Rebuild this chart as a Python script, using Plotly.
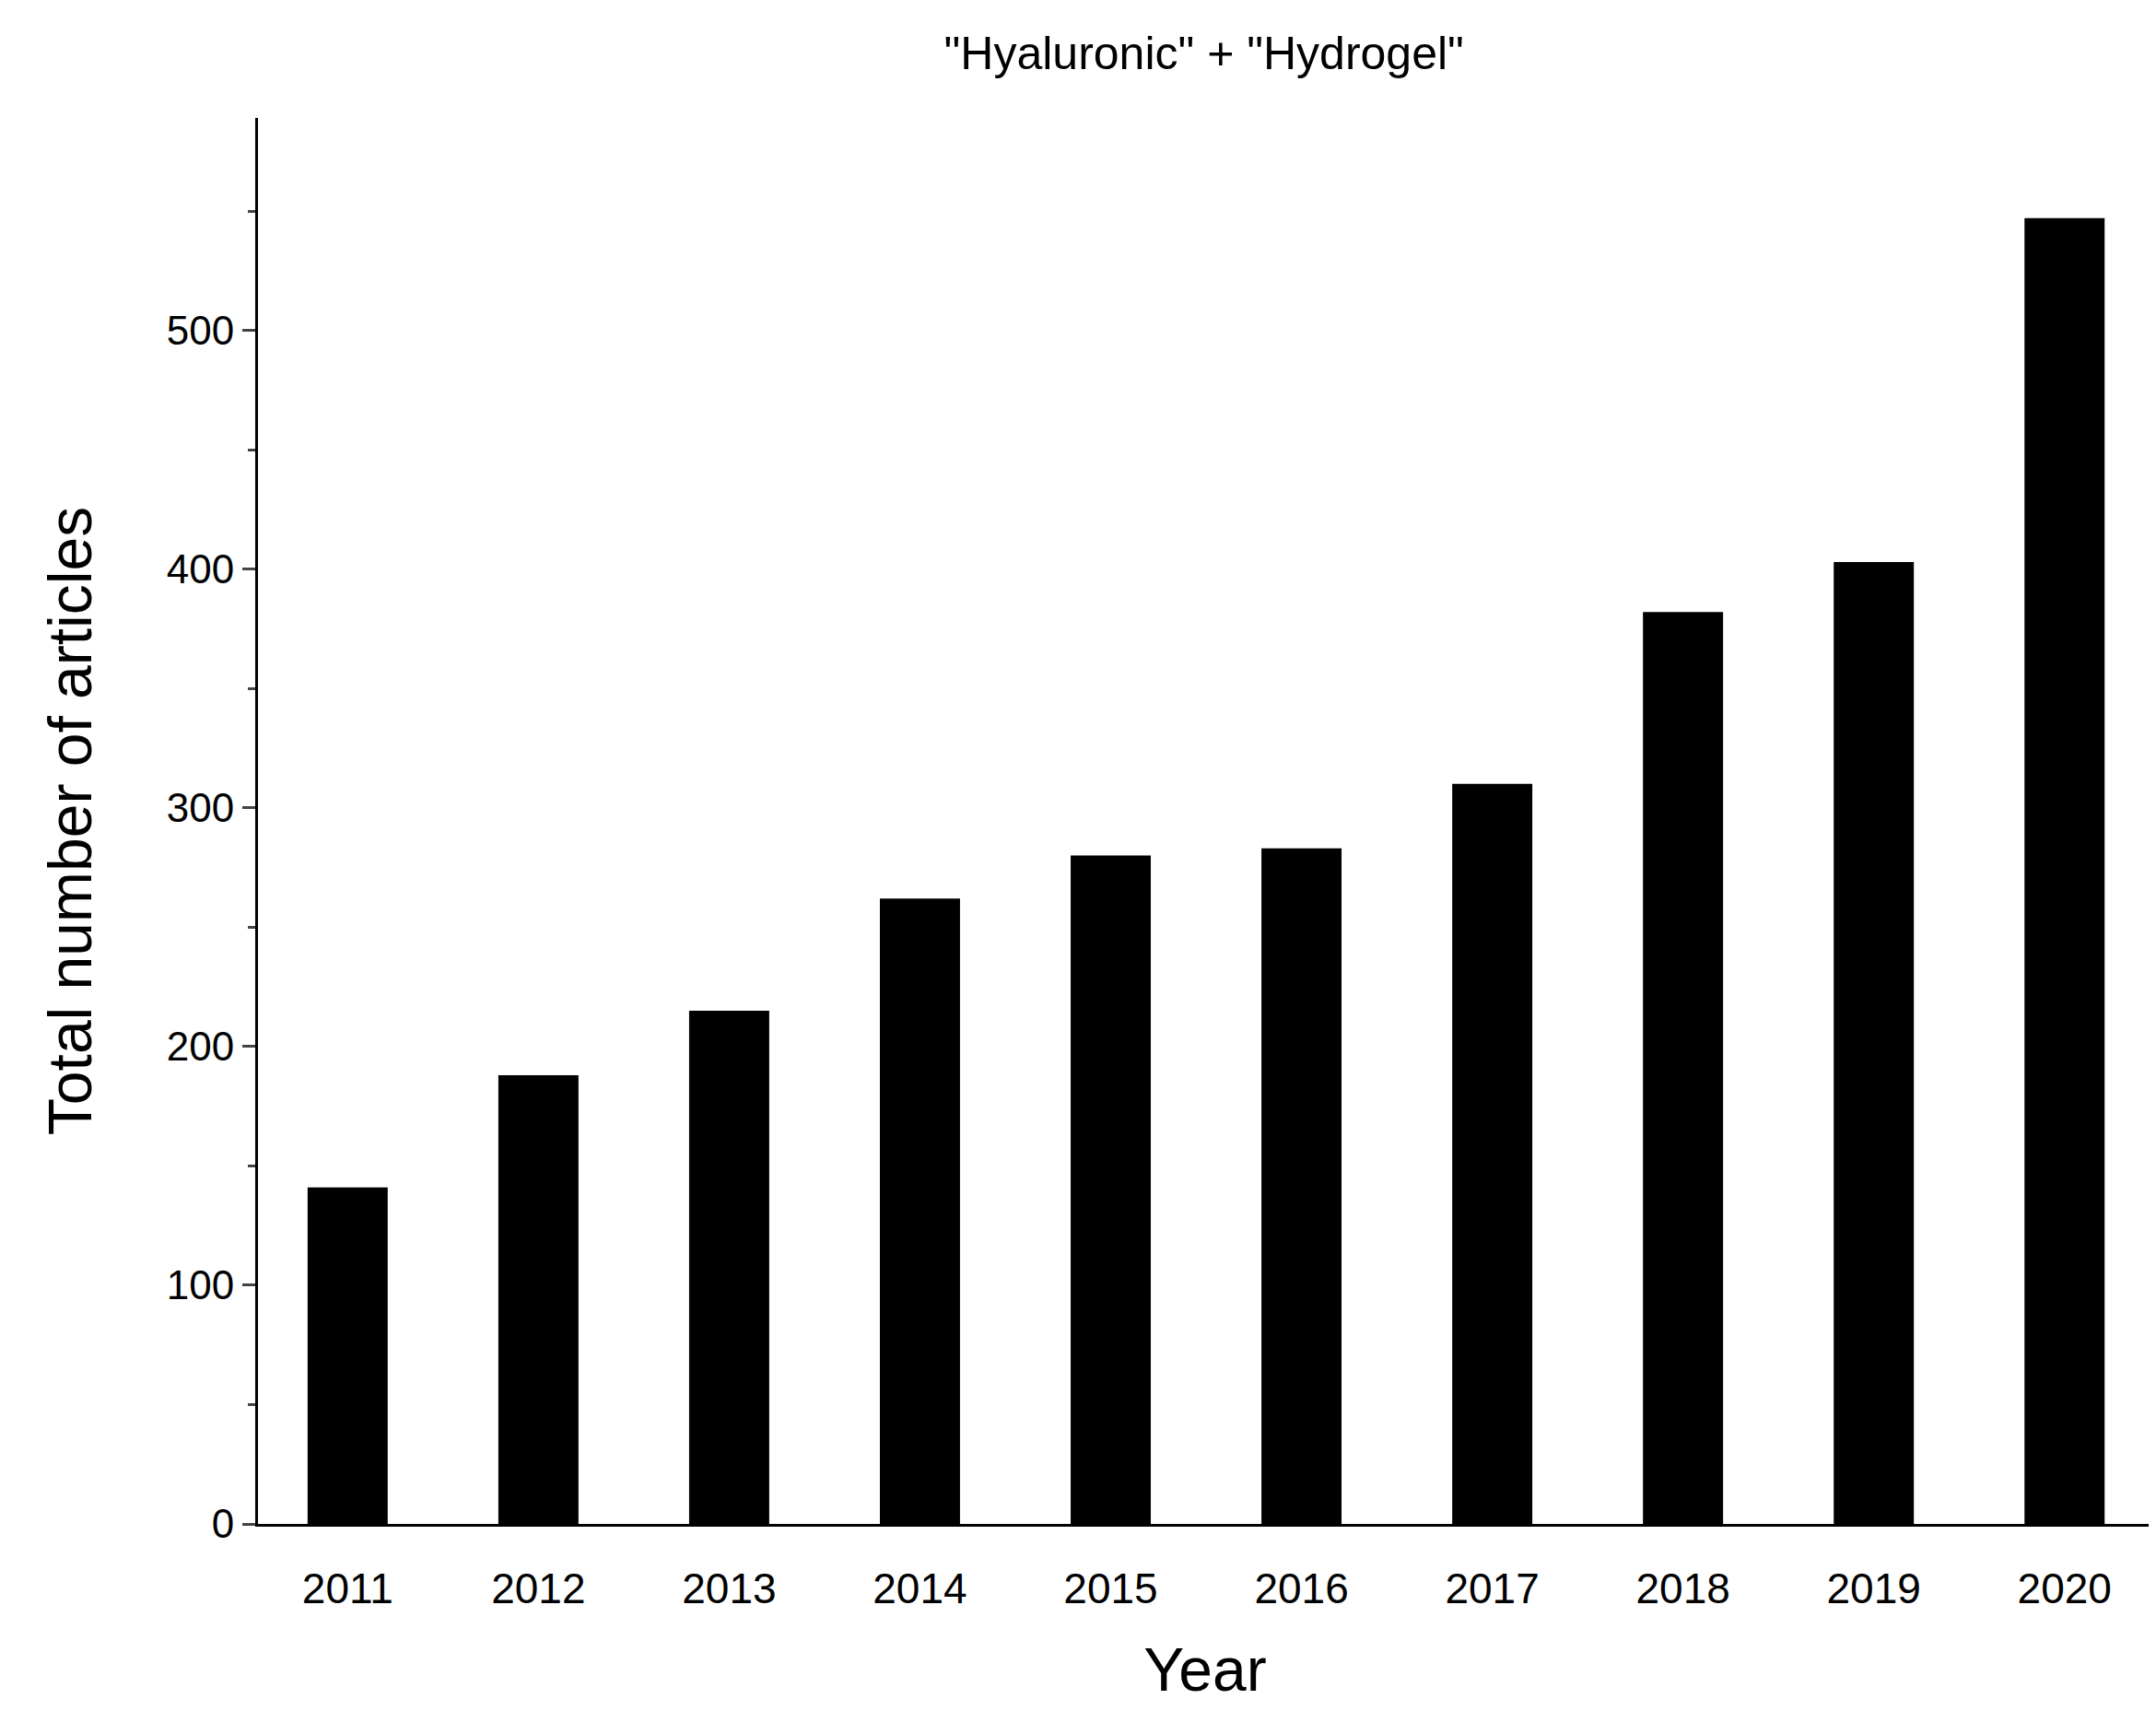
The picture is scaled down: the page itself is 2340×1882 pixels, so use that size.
import plotly.graph_objects as go

# Data
years = ["2011", "2012", "2013", "2014", "2015", "2016", "2017", "2018", "2019", "2020"]
articles = [141, 188, 215, 262, 280, 283, 310, 382, 403, 547]

fig = go.Figure(
    go.Bar(
        x=list(range(len(years))),
        y=articles,
        width=0.42,
        marker=dict(color="black", line=dict(width=0)),
    )
)

fig.update_layout(
    width=2340,
    height=1882,
    paper_bgcolor="white",
    plot_bgcolor="white",
    showlegend=False,
    font=dict(family="Liberation Sans, Arial", color="black"),
    margin=dict(l=272, r=12, t=120, b=236),
    title=dict(
        text='"Hyaluronic" + "Hydrogel"',
        x=0.555,
        xanchor="center",
        y=0.983,
        font=dict(size=50),
    ),
    xaxis=dict(
        range=[-0.47, 9.46],
        tickmode="array",
        tickvals=list(range(len(years))),
        ticktext=years,
        showline=True,
        linecolor="black",
        linewidth=3,
        ticks="outside",
        ticklen=28,
        tickcolor="rgba(0,0,0,0)",
        showgrid=False,
        zeroline=False,
        tickfont=dict(size=46),
        title=dict(text="Year", font=dict(size=66), standoff=40),
    ),
    yaxis=dict(
        range=[0, 589],
        tickvals=[0, 100, 200, 300, 400, 500],
        showline=True,
        linecolor="black",
        linewidth=3,
        ticks="outside",
        ticklen=14,
        tickwidth=3,
        minor=dict(ticks="outside", ticklen=8, tickwidth=3, dtick=50, tick0=0),
        showgrid=False,
        zeroline=False,
        tickfont=dict(size=44),
        title=dict(text="Total number of articles", font=dict(size=66), standoff=60),
    ),
)

fig.write_html("out.html")
